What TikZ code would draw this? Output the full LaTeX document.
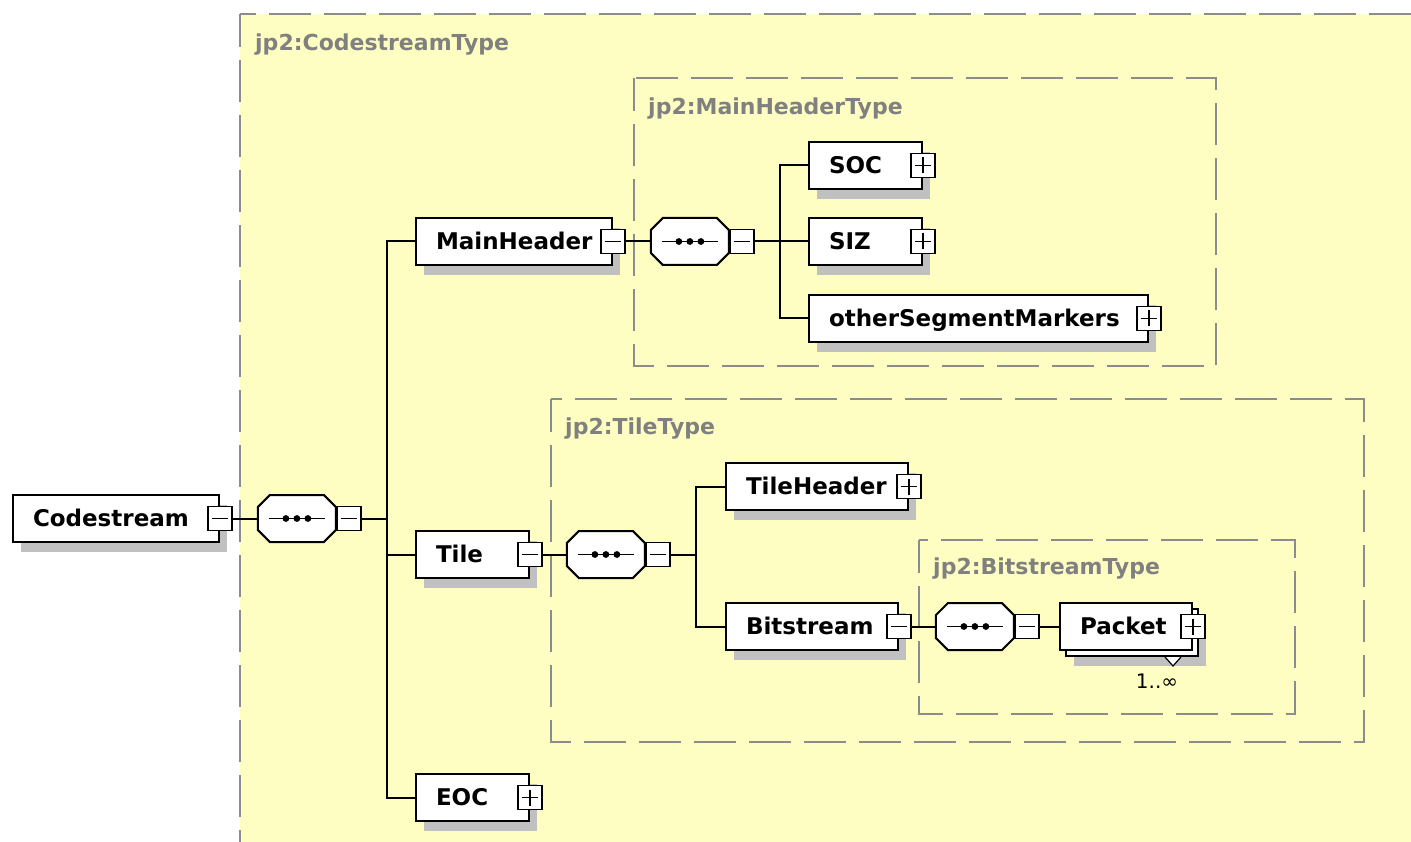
\documentclass[tikz,border=0pt]{standalone}
\usepackage{fontspec}
\setmainfont{DejaVu Sans}
\usetikzlibrary{shadows,positioning}
\definecolor{paper}{HTML}{FFFEC2}
\definecolor{frame}{HTML}{8C8C8C}
\definecolor{shade}{HTML}{C0C0C0}
\definecolor{grouptext}{HTML}{808080}
\pgfdeclarelayer{wires}
\pgfsetlayers{wires,main}
\tikzset{
  wire/.style={draw=black, line width=2pt},
  group/.style={draw=frame, line width=2.4pt, dash pattern=on 42pt off 13pt, dash phase=9pt},
  grouplabel/.style={anchor=west, text=grouptext, inner sep=0pt,
    font=\bfseries\fontsize{22}{22}\selectfont},
  shadowed/.style={drop shadow={shadow xshift=8pt, shadow yshift=-10pt, fill=shade, opacity=1}},
  elembox/.style={rectangle, draw=black, line width=2pt, fill=white, anchor=north west,
    minimum height=47pt, inner xsep=20pt, inner ysep=0pt, text width=#1, align=left,
    text height=16pt, text depth=0pt, font=\bfseries\fontsize{23}{23}\selectfont},
  elem/.style={elembox=#1, shadowed},
  toggle/.style={rectangle, draw=black, line width=1.8pt, fill=white, minimum size=24pt, inner sep=0pt},
  minusbox/.style={toggle, path picture={
    \draw[line width=1.8pt] ([xshift=-8pt]path picture bounding box.center)
      -- ([xshift=8pt]path picture bounding box.center);}},
  plusbox/.style={toggle, path picture={
    \draw[line width=1.8pt] ([xshift=-8pt]path picture bounding box.center)
      -- ([xshift=8pt]path picture bounding box.center);
    \draw[line width=1.8pt] ([yshift=-8pt]path picture bounding box.center)
      -- ([yshift=8pt]path picture bounding box.center);}},
  seqbox/.style={rectangle, minimum width=78pt, minimum height=47pt, inner sep=0pt,
    outer sep=0pt, anchor=west},
  seqline/.style={draw=black, line width=2pt, fill=white, line join=miter},
}
% octagonal sequence compositor drawn around a named placeholder node
\newcommand\seqoutline[1]{
  ([xshift=12pt]#1.north west) -- ([xshift=-12pt]#1.north east)
  -- ([yshift=-12pt]#1.north east) -- ([yshift=12pt]#1.south east)
  -- ([xshift=-12pt]#1.south east) -- ([xshift=12pt]#1.south west)
  -- ([yshift=12pt]#1.south west) -- ([yshift=-12pt]#1.north west) -- cycle}
\newcommand\drawseq[1]{
  \fill[shade, xshift=8pt, yshift=-10pt] \seqoutline{#1};
  \path[seqline] \seqoutline{#1};
  \draw[line width=1.8pt] ([xshift=-28pt]#1.center) -- ([xshift=28pt]#1.center);
  \foreach \d in {-11,0,11}
    \fill ([xshift=\d pt]#1.center) circle (3.4pt);
}
\begin{document}
\begin{tikzpicture}[x=1pt,y=-1pt]
\clip (0,0) rectangle (1411,842);

% element nodes
\node[elem=166pt] (codestream) at (12,494) {Codestream};
\node[minusbox] (codestream-c) at (codestream.east) {};
\node[seqbox, right=25pt of codestream-c] (seq1) {};
\drawseq{seq1}
\node[minusbox, right=0pt of seq1] (seq1-c) {};

\node[elem=156pt] (mainheader) at (415,217) {MainHeader};
\node[minusbox] (mainheader-c) at (mainheader.east) {};
\node[seqbox, right=25pt of mainheader-c] (seq2) {};
\drawseq{seq2}
\node[minusbox, right=0pt of seq2] (seq2-c) {};

\node[elem=73pt] (soc) at (808,141) {SOC};
\node[plusbox] (soc-c) at (soc.east) {};
\node[elem=73pt] (siz) at (808,217) {SIZ};
\node[plusbox] (siz-c) at (siz.east) {};
\node[elem=299pt] (osm) at (808,294) {otherSegmentMarkers};
\node[plusbox] (osm-c) at (osm.east) {};

\node[elem=73pt] (tile) at (415,530) {Tile};
\node[minusbox] (tile-c) at (tile.east) {};
\node[seqbox, right=24pt of tile-c] (seq3) {};
\drawseq{seq3}
\node[minusbox, right=0pt of seq3] (seq3-c) {};

\node[elem=142pt] (tileheader) at (725,462) {TileHeader};
\node[plusbox] (tileheader-c) at (tileheader.east) {};
\node[elem=132pt] (bitstream) at (725,602) {Bitstream};
\node[minusbox] (bitstream-c) at (bitstream.east) {};
\node[seqbox, right=24pt of bitstream-c] (seq4) {};
\drawseq{seq4}
\node[minusbox, right=0pt of seq4] (seq4-c) {};

\node[elem=92pt] (packet-back) at (1065,608) {\phantom{Packet}};
\node[elembox=92pt] (packet) at (1059,602) {Packet};
\node[plusbox] (packet-c) at (packet.east) {};
\draw[line width=1.2pt, fill=white] ([xshift=-34pt]packet-back.south east)
  -- ([xshift=-26pt,yshift=-9pt]packet-back.south east)
  -- ([xshift=-18pt]packet-back.south east);
\node[font=\fontsize{20}{20}\selectfont, inner sep=0pt] (packet-occ) at (1157,681) {1..∞};

\node[elem=73pt] (eoc) at (415,773) {EOC};
\node[plusbox] (eoc-c) at (eoc.east) {};

% branch points of the sequences
\path (seq1-c.east) ++(25pt,0) coordinate (fork1);
\path (seq2-c.east) ++(25pt,0) coordinate (fork2);
\path (seq3-c.east) ++(25pt,0) coordinate (fork3);

\begin{pgfonlayer}{wires}
  \fill[white] (0,0) rectangle (1411,842);
  % type groups
  \path[group, fill=paper] (240,14) rectangle (1440,880);
  \path[group] (634,78) rectangle (1216,366);
  \path[group] (551,399) rectangle (1364,742);
  \path[group] (919,540) rectangle (1295,714);
  % connectors
  \draw[wire] (codestream-c.east) -- (seq1.west);
  \draw[wire] (seq1-c.east) -- (fork1);
  \draw[wire] (fork1) |- (mainheader.west);
  \draw[wire] (fork1) |- (tile.west);
  \draw[wire] (fork1) |- (eoc.west);
  \draw[wire] (mainheader-c.east) -- (seq2.west);
  \draw[wire] (seq2-c.east) -- (fork2);
  \draw[wire] (fork2) |- (soc.west);
  \draw[wire] (fork2) |- (siz.west);
  \draw[wire] (fork2) |- (osm.west);
  \draw[wire] (tile-c.east) -- (seq3.west);
  \draw[wire] (seq3-c.east) -- (fork3);
  \draw[wire] (fork3) |- (tileheader.west);
  \draw[wire] (fork3) |- (bitstream.west);
  \draw[wire] (bitstream-c.east) -- (seq4.west);
  \draw[wire] (seq4-c.east) -- (packet.west);
\end{pgfonlayer}

% type labels
\node[grouplabel] (lbl-codestream) at (255,45) {jp2:CodestreamType};
\node[grouplabel] (lbl-mainheader) at (648,109) {jp2:MainHeaderType};
\node[grouplabel] (lbl-tile) at (565,429) {jp2:TileType};
\node[grouplabel] (lbl-bitstream) at (933,569) {jp2:BitstreamType};
\end{tikzpicture}
\end{document}
